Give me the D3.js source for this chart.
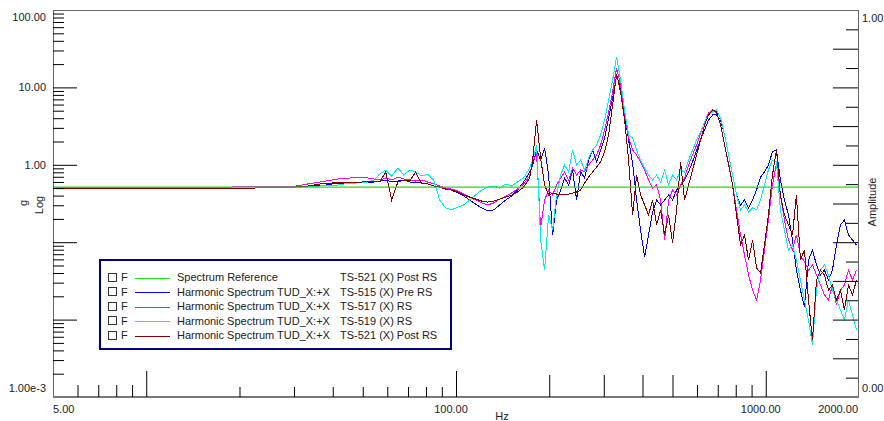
<!DOCTYPE html>
<html>
<head>
<meta charset="utf-8">
<script src="https://cdn.jsdelivr.net/npm/d3@7"></script>
<style>
body { margin: 0; background: #fff; }
svg text { font-family: Arial, "Liberation Sans", sans-serif; font-size: 11px; fill: #222; }
</style>
</head>
<body>
<div id="chart"></div>
<script>
// frequency bins (Hz), shared by all spectra
const freqHz = [5, 7.09, 10.3, 14.9, 21.6, 29.1,
  30.4, 31.8, 33.2, 34.7, 36.3, 38.0, 39.7, 41.5, 43.4, 45.4,
  47.5, 49.6, 51.9, 54.3, 56.7, 59.3, 62.0, 64.9, 67.8, 70.9,
  74.1, 77.5, 81.0, 84.7, 88.6, 92.6, 96.8, 101.3, 105.9, 110.7,
  115.7, 121.0, 126.6, 132.3, 138.3, 144.7, 151.2, 158.1, 165.3, 172.9,
  176.8, 182.1, 187.6, 193.2, 199.1, 205.1, 211.3, 217.7, 224.2, 231.0,
  237.9, 245.1, 252.5, 260.2, 268.0, 276.1, 284.4, 293.0, 301.8, 310.9,
  320.3, 330.0, 339.9, 350.2, 360.7, 371.6, 382.8, 394.4, 406.3, 418.5,
  431.2, 444.2, 457.6, 471.4, 485.6, 500.3, 515.4, 530.9, 547.0, 563.5,
  580.4, 597.9, 616.0, 634.5, 653.7, 673.4, 693.7, 714.6, 736.2, 758.4,
  781.3, 804.8, 829.1, 854.1, 879.9, 906.5, 933.8, 962.0, 990.4, 1020,
  1051, 1083, 1115, 1149, 1184, 1220, 1256, 1294, 1333, 1374,
  1415, 1458, 1502, 1547, 1594, 1642, 1691, 1743, 1795, 1849,
  1905, 1963];

// g values per spectrum
const ts515Pre = [0.50, 0.50, 0.50, 0.50, 0.50, 0.51,
  0.516, 0.532, 0.532, 0.548, 0.548, 0.548, 0.565, 0.565, 0.565, 0.582,
  0.582, 0.582, 0.599, 0.599, 0.617, 0.636, 0.599, 0.617, 0.636, 0.599,
  0.582, 0.582, 0.565, 0.532, 0.516, 0.501, 0.472, 0.432, 0.395, 0.351,
  0.311, 0.277, 0.253, 0.261, 0.303, 0.351, 0.395, 0.472, 0.599, 0.807,
  0.994, 1.55, 1.15, 1.65, 0.738, 0.124, 0.351, 0.472, 0.675, 0.548,
  0.857, 0.351, 0.807, 0.675, 1.15, 1.55, 1.09, 1.55, 2.22, 4.02,
  7.29, 14.1, 9.81, 4.40, 2.09, 1.055, 0.351, 0.144, 0.064, 0.124,
  0.246, 0.351, 0.303, 0.351, 0.407, 0.351, 0.472, 0.548, 0.636, 0.807,
  1.09, 1.55, 2.09, 2.82, 3.79, 4.40, 4.40, 3.79, 2.43, 1.34,
  0.738, 0.407, 0.303, 0.351, 0.277, 0.351, 0.472, 0.695, 0.807, 0.994,
  1.47, 1.55, 0.636, 0.351, 0.225, 0.107, 0.0437, 0.0241, 0.0146, 0.059,
  0.079, 0.051, 0.0377, 0.0437, 0.0325, 0.0437, 0.092, 0.167, 0.194, 0.124,
  0.107, 0.092];

const ts517 = [0.51, 0.51, 0.51, 0.51, 0.52, 0.52,
  0.532, 0.548, 0.565, 0.582, 0.599, 0.617, 0.636, 0.655, 0.675, 0.675,
  0.695, 0.695, 0.675, 0.655, 0.636, 0.675, 0.636, 0.695, 0.655, 0.636,
  0.617, 0.636, 0.599, 0.565, 0.532, 0.501, 0.486, 0.458, 0.419, 0.383,
  0.351, 0.321, 0.303, 0.321, 0.361, 0.395, 0.432, 0.486, 0.565, 0.716,
  1.15, 1.34, 0.153, 0.351, 0.472, 0.407, 0.548, 0.675, 0.807, 0.636,
  0.91, 0.738, 0.857, 0.807, 0.994, 1.15, 1.34, 1.80, 2.82, 4.81,
  8.70, 17.8, 10.7, 4.81, 2.22, 1.55, 1.34, 1.09, 0.857, 0.636,
  0.501, 0.548, 0.351, 0.107, 0.351, 0.472, 0.407, 0.548, 0.675, 0.994,
  1.34, 1.80, 2.58, 3.57, 4.67, 5.10, 4.67, 3.27, 1.80, 1.055,
  0.548, 0.261, 0.124, 0.068, 0.0377, 0.0241, 0.0179, 0.0325, 0.079, 0.194,
  0.548, 1.055, 0.407, 0.194, 0.107, 0.079, 0.124, 0.068, 0.0555, 0.0437,
  0.051, 0.0377, 0.028, 0.0208, 0.0179, 0.028, 0.0155, 0.0241, 0.028, 0.0437,
  0.0325, 0.0437];

const ts519 = [0.50, 0.50, 0.50, 0.50, 0.50, 0.51,
  0.516, 0.516, 0.532, 0.532, 0.532, 0.548, 0.548, 0.548, 0.565, 0.565,
  0.582, 0.582, 0.599, 0.636, 0.760, 0.857, 0.716, 0.91, 0.738, 0.857,
  0.807, 0.716, 0.760, 0.636, 0.351, 0.277, 0.261, 0.285, 0.303, 0.351,
  0.407, 0.472, 0.516, 0.532, 0.501, 0.565, 0.532, 0.599, 0.675, 0.91,
  1.15, 1.80, 0.107, 0.0437, 0.225, 0.144, 0.407, 0.738, 0.994, 0.807,
  1.55, 0.994, 1.15, 0.857, 1.22, 1.55, 1.80, 2.43, 3.79, 6.87,
  12.5, 24.7, 12.5, 5.10, 2.43, 2.22, 1.55, 1.15, 0.91, 0.738,
  0.636, 0.738, 0.599, 0.857, 0.548, 0.738, 0.636, 0.857, 0.807, 1.15,
  1.55, 2.09, 2.66, 3.57, 4.40, 4.81, 5.10, 4.02, 2.43, 1.34,
  0.738, 0.407, 0.261, 0.303, 0.246, 0.277, 0.261, 0.351, 0.548, 0.857,
  1.15, 1.09, 0.261, 0.144, 0.079, 0.092, 0.059, 0.0325, 0.0179, 0.0099,
  0.0047, 0.0241, 0.0437, 0.051, 0.0377, 0.0241, 0.0179, 0.0133, 0.0099, 0.0179,
  0.0115, 0.0073];

const ts521Post = [0.50, 0.50, 0.50, 0.50, 0.50, 0.51,
  0.516, 0.532, 0.532, 0.548, 0.565, 0.565, 0.582, 0.582, 0.582, 0.599,
  0.599, 0.599, 0.617, 0.617, 0.599, 0.807, 0.351, 0.599, 0.636, 0.617,
  0.807, 0.565, 0.565, 0.532, 0.516, 0.486, 0.472, 0.445, 0.407, 0.383,
  0.361, 0.340, 0.330, 0.340, 0.361, 0.383, 0.407, 0.445, 0.516, 0.675,
  1.15, 3.79, 1.22, 0.548, 0.407, 0.432, 0.419, 0.407, 0.419, 0.419,
  0.432, 0.445, 0.472, 0.582, 0.695, 0.807, 0.937, 1.09, 1.47, 2.43,
  5.93, 14.9, 8.70, 3.79, 1.15, 0.225, 0.738, 0.407, 0.303, 0.225,
  0.351, 0.167, 0.261, 0.124, 0.225, 0.098, 0.261, 1.09, 0.351, 0.548,
  0.857, 1.34, 2.09, 3.27, 4.40, 5.10, 4.81, 3.27, 1.80, 0.994,
  0.548, 0.225, 0.092, 0.124, 0.059, 0.107, 0.0464, 0.040, 0.092, 0.225,
  0.738, 1.55, 0.407, 0.225, 0.167, 0.124, 0.407, 0.059, 0.079, 0.0179,
  0.0054, 0.0325, 0.0437, 0.0377, 0.0241, 0.028, 0.0179, 0.0241, 0.0133, 0.028,
  0.0208, 0.0325];

const refFreq = [5, 2000];
const refLevel = [0.515, 0.515];

const legendNames = ["Spectrum Reference", "Harmonic Spectrum TUD_X:+X", "Harmonic Spectrum TUD_X:+X",
  "Harmonic Spectrum TUD_X:+X", "Harmonic Spectrum TUD_X:+X"];
const legendRuns = ["TS-521 (X) Post RS", "TS-515 (X) Pre RS", "TS-517 (X) RS", "TS-519 (X) RS", "TS-521 (X) Post RS"];
const legendColors = ["#22dd22", "#0000ee", "#ff00ff", "#00eeee", "#800000"];

const xLabelTicks = [5, 100, 1000, 2000];
const yLabelTicks = [100, 10, 1, 0.001];

(function() {
    const width = 884;
    const height = 421;
    const svg = d3.select("#chart")
        .append("svg")
        .attr("width", width)
        .attr("height", height);

    const x = d3.scaleLog().domain([5, 2000]).range([53, 859]);
    const y = d3.scaleLog().domain([0.001, 100]).range([397, 10]);
    const yAmp = d3.scaleLinear().domain([0, 1]).range([397, 10]);

    svg.append("clipPath").attr("id", "plot-clip")
        .append("rect").attr("x", 53).attr("y", 10).attr("width", 806).attr("height", 387);

    // spectra, reference on top
    const line = d3.line()
        .x((d, i) => x(freqHz[i]))
        .y(d => y(d));
    const plot = svg.append("g").attr("clip-path", "url(#plot-clip)");
    [ts515Pre, ts517, ts519, ts521Post].forEach((s, i) => {
        plot.append("path")
            .attr("d", line(s))
            .attr("fill", "none")
            .attr("stroke", legendColors[i + 1])
            .attr("stroke-width", 1)
            .attr("shape-rendering", "crispEdges");
    });
    plot.append("path")
        .attr("d", d3.line().x((d, i) => x(refFreq[i])).y(d => y(d))(refLevel))
        .attr("fill", "none")
        .attr("stroke", legendColors[0])
        .attr("stroke-width", 1.3);

    // frame
    svg.append("rect")
        .attr("x", 53.5).attr("y", 10.5).attr("width", 805).attr("height", 386)
        .attr("fill", "none").attr("stroke", "#666");
    svg.append("line")
        .attr("x1", 53).attr("x2", 859).attr("y1", 397).attr("y2", 397)
        .attr("stroke", "#777").attr("stroke-width", 2);

    function ticks(axis, pos, values, len) {
        svg.append("g")
            .attr("transform", pos)
            .style("color", "#000")
            .call(axis.tickValues(values).tickSize(len).tickFormat(""))
            .call(g => g.select(".domain").remove());
    }

    // x ticks, upward from the bottom axis
    ticks(d3.axisTop(x), "translate(0,397)", [10, 100, 1000], 26);
    ticks(d3.axisTop(x), "translate(0,397)", [200, 300, 400, 500], 22);
    ticks(d3.axisTop(x), "translate(0,397)", [6, 7, 8, 9, 600, 700, 800, 900], 12);
    ticks(d3.axisTop(x), "translate(0,397)", [20, 30, 40, 50, 60, 70, 80, 90], 10);

    // left log ticks, inward
    const yMajor = [0.01, 0.1, 1, 10];
    const yMinor = [];
    [0.001, 0.01, 0.1, 1, 10].forEach(dec => {
        for (let k = 2; k <= 9; k++) yMinor.push(dec * k);
    });
    ticks(d3.axisRight(y), "translate(53,0)", yMajor, 24);
    ticks(d3.axisRight(y), "translate(53,0)", yMinor, 11);

    // right amplitude ticks, inward
    const ampMajor = [0.1, 0.2, 0.3, 0.4, 0.5, 0.6, 0.7, 0.8, 0.9];
    const ampMinor = [0.05, 0.15, 0.25, 0.35, 0.45, 0.55, 0.65, 0.75, 0.85, 0.95];
    ticks(d3.axisLeft(yAmp), "translate(858,0)", ampMajor, 25);
    ticks(d3.axisLeft(yAmp), "translate(858,0)", ampMinor, 12);

    // x labels
    const fmt = d3.format(".2f");
    xLabelTicks.forEach(v => {
        const t = svg.append("text").attr("y", 409).attr("dy", "0.35em").text(fmt(v));
        if (v === 5) t.attr("x", x(v)).attr("text-anchor", "start");
        else if (v === 2000) t.attr("x", 858).attr("text-anchor", "end");
        else t.attr("x", x(v) - 5).attr("text-anchor", "middle");
    });
    svg.append("text").attr("x", 502).attr("y", 416).attr("dy", "0.35em")
        .attr("text-anchor", "middle").text("Hz");

    // left labels
    yLabelTicks.forEach(v => {
        let yy = y(v);
        if (v === 100) yy = 17;
        if (v === 0.001) yy = 388;
        svg.append("text").attr("x", 46).attr("y", yy).attr("dy", "0.35em")
            .attr("text-anchor", "end").text(v === 0.001 ? "1.00e-3" : fmt(v));
    });
    svg.append("text").attr("transform", "translate(23,203) rotate(-90)")
        .attr("dy", "0.35em").attr("text-anchor", "middle").text("g");
    svg.append("text").attr("transform", "translate(39,205) rotate(-90)")
        .attr("dy", "0.35em").attr("text-anchor", "middle").text("Log");

    // right labels
    svg.append("text").attr("x", 862).attr("y", 18).attr("dy", "0.35em").text("1.00");
    svg.append("text").attr("x", 862).attr("y", 388).attr("dy", "0.35em").text("0.00");
    svg.append("text").attr("transform", "translate(872,202) rotate(-90)")
        .attr("dy", "0.35em").attr("text-anchor", "middle").text("Amplitude");

    // legend
    const lg = svg.append("g");
    lg.append("rect")
        .attr("x", 100).attr("y", 260).attr("width", 351).attr("height", 89)
        .attr("fill", "#fff").attr("stroke", "#000080").attr("stroke-width", 2);
    legendNames.forEach((name, i) => {
        const ry = 277.5 + i * 14.5;
        lg.append("rect").attr("x", 108.5).attr("y", Math.round(ry) - 4.5).attr("width", 8).attr("height", 8)
            .attr("fill", "#fff").attr("stroke", "#333");
        lg.append("text").attr("x", 121).attr("y", ry).attr("dy", "0.35em").text("F");
        lg.append("line").attr("x1", 135).attr("x2", 170).attr("y1", Math.round(ry) + 0.5).attr("y2", Math.round(ry) + 0.5)
            .attr("stroke", legendColors[i]).attr("stroke-width", 1.2);
        lg.append("text").attr("x", 177).attr("y", ry).attr("dy", "0.35em").text(name);
        lg.append("text").attr("x", 340).attr("y", ry).attr("dy", "0.35em").text(legendRuns[i]);
    });
})();
</script>
</body>
</html>
